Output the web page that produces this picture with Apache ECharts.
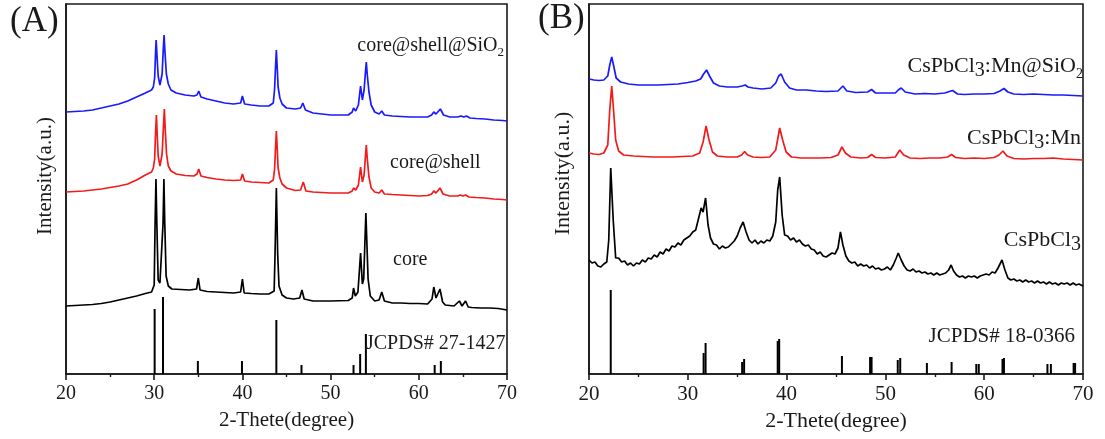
<!DOCTYPE html>
<html>
<head>
<meta charset="utf-8">
<script src="https://cdn.jsdelivr.net/npm/echarts@6/dist/echarts.min.js"></script>
<style>
  html, body { margin: 0; padding: 0; background: #fff; }
  #chart { width: 1105px; height: 439px; }
</style>
</head>
<body>
<div id="chart"></div>
<script>
// ---- Panel (A): XRD patterns, 2θ (degree) vs intensity (a.u., offset traces) ----
const coreA = [
  [20,68],[21,68.5],[22,69],[23,69.5],[24,70.5],[25,72],[26,74],[27,76],[28,78],[29,80.5],[29.7,82],
  [30.0,89],[30.1,150],[30.2,195],[30.3,150],[30.45,94],[30.65,91],[31.0,150],[31.1,195],[31.2,150],[31.35,98],[31.6,88],
  [32,85],[33,84.5],[34,84],[34.8,85],[35.0,96],[35.2,84],[36,82.5],[37,82],[38,81.5],[39,81],[39.8,82],[40.0,95],[40.2,81],
  [41,80.5],[42,80],[43,80],[43.6,83],[43.7,120],[43.85,186],[44.0,120],[44.15,88],[44.5,79],[45,76],[45.8,75],[46,74],
  [46.5,76],[46.75,84],[47.0,75],[48,73],[50,73],[52,73.5],[52.45,76],[52.6,86],[52.8,78],[53.1,82],[53.4,121],[53.6,90],
  [53.75,95],[54.0,161],[54.25,95],[54.5,78],[55.0,73],[55.5,74],[55.8,82],[56.1,73],[57,71],[58,71],[59,70.5],[60,70.5],
  [61,70],[61.5,75],[61.7,87],[61.95,76],[62.4,85],[62.7,72],[63,69],[64,68],[64.6,73],[64.9,68],[65.3,73],[65.6,67],
  [66,66.5],[67,66],[68,66],[69,65.5],[70,64]
];
const coreShellA = [
  [20,182],[21,182.5],[22,183],[23,184],[24,185],[25,186.5],[26,188],[27,190],[28,194],[29,199],[29.7,202],
  [29.9,206],[30.05,215],[30.15,240],[30.25,259],[30.35,238],[30.45,218],[30.65,208],[30.9,220],[31.05,248],[31.15,265],
  [31.25,245],[31.4,220],[31.6,208],[31.9,203],
  [32.5,200],[33.5,198.5],[34.5,198],[34.85,200],[35.05,205],[35.3,198],[36,196.5],[37,195],[38,194],[39,193.5],
  [39.8,194],[40.0,200],[40.25,193],[41,192],[42,191.5],[43,191],[43.5,194],[43.65,205],[43.75,225],[43.85,243],
  [43.95,225],[44.05,206],[44.25,196],[44.5,190],[45,186],[46,183.5],[46.6,184],[46.9,192],[47.2,183],[48,182],
  [49,181.5],[50,181],[51,181],[52,181],[52.45,183],[52.6,186],[52.85,184],[53.15,189],[53.4,207],[53.6,192],[53.8,199],
  [53.95,218],[54.05,229],[54.15,216],[54.35,197],[54.6,186],[55.0,182],[55.5,181],[55.8,184],[56.1,180],[57,179.5],
  [58,179],[59,178.5],[60,178],[61,178.5],[61.45,180],[61.7,183],[61.95,181],[62.4,186],[62.75,180],[63.5,178],
  [64.4,178],[64.7,179],[65.0,178],[65.3,179],[65.7,177],[66.5,176.5],[67.5,176],[68.5,175],[69.5,174.5],[70,174]
];
const coreShellSiO2A = [
  [20,262],[21,262.5],[22,263],[23,264],[24,266],[25,268],[26,270],[27,273],[28,277],[29,281],[29.7,284],
  [29.9,287],[30.05,296],[30.15,320],[30.22,334],[30.32,318],[30.45,298],[30.65,289],[30.9,300],[31.03,325],[31.12,339],
  [31.22,322],[31.38,300],[31.6,290],[31.9,284],
  [32.5,281],[33.5,279],[34.5,278],[34.85,279],[35.05,283],[35.3,277],[36,275],[37,273],[38,271],[39,270],[39.8,271],
  [40.0,278],[40.25,270],[41,269],[42,268],[43,268],[43.5,271],[43.65,285],[43.75,306],[43.85,324],[43.95,306],
  [44.05,287],[44.25,276],[44.5,270],[45,266],[46,265],[46.6,266],[46.85,271],[47.15,264],[48,261],[49,260],[50,259],
  [51,259],[52,259],[52.45,262],[52.6,266],[52.85,263],[53.15,269],[53.4,288],[53.6,274],[53.8,284],[53.95,302],
  [54.05,312],[54.15,300],[54.35,282],[54.6,269],[55.0,262],[55.5,260],[55.8,263],[56.1,259],[57,258],[58,257.5],
  [59,257],[60,257],[61,257],[61.45,259],[61.7,262],[61.95,260],[62.45,265],[62.8,259],[63.5,257],[64.4,257],
  [64.8,258],[65.1,257],[65.4,258],[65.8,256],[66.5,255.5],[67.5,255],[68.5,254],[69.5,253.5],[70,253]
];
// reference pattern JCPDS# 27-1427: [2θ, relative height]
const refA = [
  [30.05,65],[31.0,77],[34.95,13],[39.95,13],[43.85,54],[46.7,9],[52.6,9],[53.35,20],[54.0,40],[61.8,9],[62.5,13]
];

// ---- Panel (B) ----
const cspbcl3B = [
  [20,114],[20.3,111],[20.6,112],[20.9,108],[21.2,107],[21.5,110],[21.8,112],[22.0,134],[22.2,206],[22.45,154],[22.7,116],
  [23.0,116],[23.3,112],[23.6,113],[23.9,109],[24.2,111],[24.5,108],[24.8,111],[25.1,110],[25.4,114],[25.7,112],[26.0,116],
  [26.3,115],[26.6,119],[26.9,117],[27.2,122],[27.5,120],[27.8,125],[28.1,123],[28.4,128],[28.7,127],[29.0,131],[29.3,129],
  [29.6,134],[29.9,136],[30.2,138],[30.5,142],[30.8,144],[31.1,156],[31.35,166],[31.55,162],[31.8,176],[32.05,149],
  [32.3,136],[32.6,130],[32.9,129],[33.2,125],[33.5,128],[33.8,126],[34.1,127],[34.4,130],[34.7,133],[35.0,138],
  [35.3,146],[35.6,152],[35.9,142],[36.2,134],[36.5,131],[36.8,134],[37.1,130],[37.4,133],[37.7,131],[38.0,134],
  [38.3,133],[38.6,138],[38.9,152],[39.1,184],[39.3,197],[39.55,159],[39.8,139],[40.1,138],[40.4,134],[40.7,136],
  [41.0,132],[41.3,134],[41.6,130],[41.9,128],[42.2,129],[42.5,125],[42.8,124],[43.1,120],[43.4,122],[43.7,118],
  [44.0,117],[44.3,119],[44.6,121],[44.9,120],[45.2,126],[45.45,142],[45.7,129],[46.0,118],[46.3,113],[46.6,111],
  [46.9,112],[47.2,108],[47.5,110],[47.8,108],[48.1,109],[48.4,106],[48.7,108],[49.0,105],[49.3,106],[49.6,104],
  [49.9,105],[50.2,107],[50.5,104],[50.8,109],[51.1,116],[51.3,121],[51.6,114],[51.9,108],[52.2,104],[52.5,103],
  [52.8,105],[53.1,102],[53.4,103],[53.7,101],[54.0,102],[54.3,100],[54.6,101],[54.9,99],[55.2,101],[55.5,99],
  [55.8,100],[56.1,101],[56.4,104],[56.65,109],[56.9,103],[57.2,99],[57.5,97],[57.8,98],[58.1,96],[58.4,98],
  [58.7,97],[59.0,98],[59.3,96],[59.6,98],[59.9,99],[60.2,100],[60.5,99],[60.8,102],[61.1,101],[61.4,106],[61.8,114],
  [62.1,104],[62.4,96],[62.7,94],[63.0,95],[63.3,93],[63.6,94],[63.9,92],[64.2,94],[64.5,92],[64.8,93],[65.1,91],
  [65.4,93],[65.7,91],[66.0,92],[66.3,90],[66.6,92],[66.9,90],[67.2,91],[67.5,89],[67.8,91],[68.1,90],[68.4,91],
  [68.7,89],[69.0,91],[69.3,89],[69.6,90],[70,88]
];
const cspbcl3MnB = [
  [20,221],[20.5,220],[21,219.5],[21.5,221],[21.9,229],[22.1,264],[22.3,288],[22.5,262],[22.7,234],[23.0,223],[23.5,219],
  [24.5,218],[25.5,217.5],[26.5,217],[27.5,217],[28.5,217],[29.5,217.5],[30.5,218],[31.2,221],[31.55,232],[31.85,248],
  [32.15,234],[32.5,222],[33,218],[34,217],[35,217],[35.45,219],[35.75,222.5],[36.05,219],[36.6,217],[37.5,216.5],
  [38.3,217],[38.9,224],[39.3,246],[39.6,234],[39.95,222],[40.5,217],[41.5,216],[42.5,216],[43.5,216],[44.5,216.5],
  [45.2,219],[45.6,227],[45.95,221],[46.5,217],[47.5,216],[48.2,216.5],[48.6,219.5],[49.0,216.5],[50,216],[51,217],
  [51.45,224],[51.85,219],[52.5,216],[53.5,215.5],[54.5,216],[55.5,216],[56.3,217],[56.7,219.5],[57.1,216.5],
  [58,215.5],[59,216],[60,215.5],[61,216.5],[61.5,219],[61.9,223],[62.3,218],[63,215.5],[64,215],[65,215.5],
  [66,215.5],[67,216],[68,215],[69,214.5],[70,214]
];
const cspbcl3MnSiO2B = [
  [20,295],[20.5,294],[21,293.5],[21.5,294],[21.9,298],[22.1,309],[22.3,317],[22.5,308],[22.75,296],[23.2,292],
  [24,290],[25,289],[26,289],[27,289],[28,289.5],[29,290],[30,291.5],[30.8,293],[31.3,295],[31.6,300],[31.9,304],
  [32.2,298],[32.6,291],[33.2,288],[34,287],[35,287],[35.5,288],[35.8,289],[36.1,287],[36.6,286],[37.5,285],
  [38.4,286],[38.9,291],[39.2,298],[39.45,300],[39.8,292],[40.3,286],[41,284],[42,284],[43,283],[44,282.5],
  [45.2,283],[45.7,288],[46.1,283],[47,281.5],[48.2,282],[48.6,284.5],[49.0,281],[50,281],[51,281],[51.3,284],
  [51.6,286],[52.0,282],[53,280],[54,280.5],[55,280],[56,281],[56.8,283.5],[57.3,280],[58,279.5],[59,280],[60,280],
  [61,280.5],[61.6,283],[62.0,285.5],[62.4,282],[63,280],[64,279.5],[65,280],[66,279.5],[67,279],[68,279],
  [69,278.5],[70,278]
];
// reference pattern JCPDS# 18-0366: [2θ, relative height]
const refB = [
  [22.2,84],[31.6,21],[31.8,31],[35.5,12],[35.7,15],[39.1,33],[39.25,35],[45.6,18],[48.45,17],[48.6,17],
  [51.25,14],[51.5,16],[54.2,11],[56.7,12],[59.2,10],[59.45,10],[61.85,15],[62.0,16],[66.4,10],[66.75,10],
  [69.05,11],[69.2,11]
];

const xTicks = { min: 20, max: 70, interval: 10 };
const SERIF = '"Liberation Serif", "Times New Roman", serif';
const INK = '#1a1a1a';
const BLUE = '#1a1aff';
const RED = '#f21a1a';

function xAxisFor(gridIndex, fontSize, titleSize) {
  return {
    type: 'value', gridIndex, min: xTicks.min, max: xTicks.max, interval: xTicks.interval,
    name: '2-Thete(degree)', nameLocation: 'middle', nameGap: 36,
    nameTextStyle: { fontFamily: SERIF, fontSize: titleSize, color: INK },
    axisLine: { show: true, lineStyle: { color: INK, width: 1.6 } },
    axisTick: { show: true, inside: false, length: 6, lineStyle: { color: INK, width: 1.6 } },
    minorTick: { show: true, splitNumber: 2, length: 3, lineStyle: { color: INK, width: 1.4 } },
    axisLabel: { fontFamily: SERIF, fontSize, color: INK, margin: 10 },
    splitLine: { show: false }
  };
}
function yAxisFor(gridIndex, gap, shift, titleSize) {
  return {
    type: 'value', gridIndex, min: 0, max: 370,
    name: 'Intensity(a.u.)', nameLocation: 'middle', nameGap: gap,
    nameTextStyle: { fontFamily: SERIF, fontSize: titleSize, color: INK, padding: [0, 0, 0, shift] },
    axisLine: { show: true, lineStyle: { color: INK, width: 1.6 } },
    axisTick: { show: false }, axisLabel: { show: false }, splitLine: { show: false }
  };
}
function trace(idx, data, color) {
  return {
    type: 'line', xAxisIndex: idx, yAxisIndex: idx, data, showSymbol: false, symbol: 'none',
    lineStyle: { color, width: 1.7 }, silent: true, z: 2
  };
}
function sticks(idx, data) {
  return {
    type: 'custom', xAxisIndex: idx, yAxisIndex: idx, data, silent: true, z: 3,
    renderItem: function (params, api) {
      const p0 = api.coord([api.value(0), 0]);
      const p1 = api.coord([api.value(0), api.value(1)]);
      return { type: 'line', shape: { x1: p0[0], y1: p0[1], x2: p1[0], y2: p1[1] },
               style: { stroke: '#000', lineWidth: 2 } };
    }
  };
}
function label(text, x, y, size, align, rich) {
  return {
    type: 'text', x, y, silent: true, z: 10,
    style: {
      text, x: 0, y: 0, fill: INK, fontFamily: SERIF, fontSize: size,
      font: size + 'px ' + SERIF,
      align, textAlign: align, verticalAlign: 'middle', textVerticalAlign: 'middle',
      rich
    }
  };
}
const richA = {
  n: { fontFamily: SERIF, fontSize: 20, color: INK },
  s: { fontFamily: SERIF, fontSize: 13, color: INK, padding: [14, 0, 0, 0], verticalAlign: 'bottom' }
};
const richB = {
  n: { fontFamily: SERIF, fontSize: 22, color: INK },
  d: { fontFamily: SERIF, fontSize: 20, color: INK, padding: [10, 0, 0, 0], verticalAlign: 'bottom' },
  s: { fontFamily: SERIF, fontSize: 14, color: INK, padding: [16, 0, 0, 0], verticalAlign: 'bottom' }
};

const chart = echarts.init(document.getElementById('chart'), null, { renderer: 'canvas' });
chart.setOption({
  animation: false,
  backgroundColor: '#ffffff',
  grid: [
    { left: 66, top: 4, width: 441, height: 370, show: true, borderColor: INK, borderWidth: 1.6, backgroundColor: 'transparent' },
    { left: 589, top: 4, width: 494, height: 370, show: true, borderColor: INK, borderWidth: 1.6, backgroundColor: 'transparent' }
  ],
  xAxis: [xAxisFor(0, 20, 21), xAxisFor(1, 21, 22)],
  yAxis: [yAxisFor(0, 10, 26, 21), yAxisFor(1, 15, 31, 22)],
  series: [
    trace(0, coreA, '#000000'),
    trace(0, coreShellA, RED),
    trace(0, coreShellSiO2A, BLUE),
    sticks(0, refA),
    trace(1, cspbcl3B, '#000000'),
    trace(1, cspbcl3MnB, RED),
    trace(1, cspbcl3MnSiO2B, BLUE),
    sticks(1, refB)
  ],
  graphic: [
    label('(A)', 10, 22, 35, 'left'),
    label('(B)', 538, 19, 35, 'left'),
    label('{n|core@shell@SiO}{s|2}', 504, 46, 20, 'right', richA),
    label('core@shell', 390, 163, 20, 'left'),
    label('core', 393, 260, 20, 'left'),
    label('JCPDS# 27-1427', 366, 344, 20, 'left'),
    label('{n|CsPbCl}{d|3}{n|:Mn@SiO}{s|2}', 1083, 66, 22, 'right', richB),
    label('{n|CsPbCl}{d|3}{n|:Mn}', 1081, 138, 22, 'right', richB),
    label('{n|CsPbCl}{d|3}', 1081, 240, 22, 'right', richB),
    label('JCPDS# 18-0366', 1075, 336, 21, 'right')
  ]
});
</script>
</body>
</html>
